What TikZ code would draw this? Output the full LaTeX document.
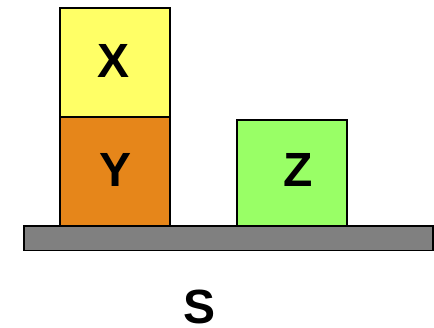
\documentclass[tikz,border=0pt]{standalone}
\usepackage{fontspec}
\setmainfont{Liberation Sans}
\definecolor{cX}{HTML}{FFFF66}
\definecolor{cY}{HTML}{E6861A}
\definecolor{cZ}{HTML}{99FF66}
\definecolor{cS}{HTML}{808080}
\begin{document}
\begin{tikzpicture}[x=1pt,y=-1pt,
  blk/.style={draw=black,line width=1.8pt},
  lbl/.style={font=\fontsize{48}{48}\selectfont\bfseries,inner sep=0pt}]
\fill[white] (0,0) rectangle (434,328);
\useasboundingbox (0,0) rectangle (434,328);
\path[blk,fill=cX] (60,8) rectangle (170,117);
\path[blk,fill=cY] (60,117) rectangle (170,226);
\path[blk,fill=cZ] (237,120) rectangle (347,226);
\path[blk,fill=cS] (24,226) rectangle (433,250.5);
\node[lbl] (X) at (114,61) {X};
\node[lbl] (Y) at (116,170) {Y};
\node[lbl] (Z) at (298,170) {Z};
\node[lbl] (S) at (200,306.5) {S};
\end{tikzpicture}
\end{document}
